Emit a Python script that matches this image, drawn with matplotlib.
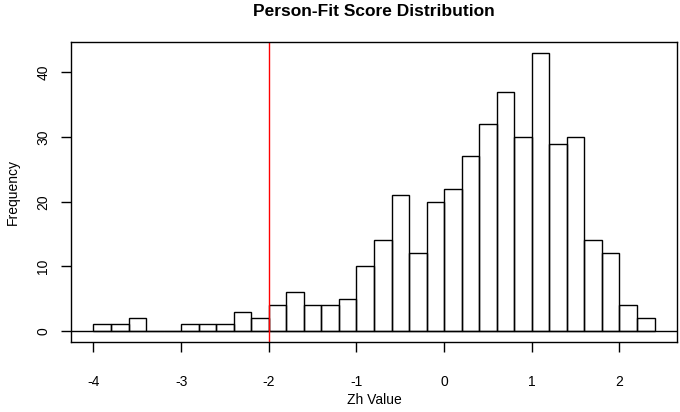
import numpy as np
import matplotlib
matplotlib.use("Agg")
import matplotlib.pyplot as plt

plt.rcParams['font.family'] = ['Liberation Sans', 'DejaVu Sans']

# Histogram bins (Zh value) and counts
bin_edges = [-4.0, -3.8, -3.6, -3.4, -3.2, -3.0, -2.8, -2.6, -2.4, -2.2, -2.0,
             -1.8, -1.6, -1.4, -1.2, -1.0, -0.8, -0.6, -0.4, -0.2, 0.0,
             0.2, 0.4, 0.6, 0.8, 1.0, 1.2, 1.4, 1.6, 1.8, 2.0, 2.2, 2.4]
counts = [1, 1, 2, 0, 0, 1, 1, 1, 3, 2,
          4, 6, 4, 4, 5, 10, 14, 21, 12, 20,
          22, 27, 32, 37, 30, 43, 29, 30, 14, 12, 4, 2]
cutoff = -2.0
x_ticks = [-4, -3, -2, -1, 0, 1, 2]
y_ticks = [0, 10, 20, 30, 40]

fig = plt.figure(figsize=(6.8, 4.12), dpi=100)
ax = fig.add_axes([71/680, 1-342/412, (677-71)/680, (342-42)/412])

edges = np.array(bin_edges)
ax.bar(edges[:-1], counts, width=np.diff(edges), align='edge',
       fill=False, edgecolor='black', linewidth=1.0)

ax.axhline(0, color='black', linewidth=1.0)
ax.axvline(cutoff, color='red', linewidth=1.0)

ax.set_xlim(-4.256, 2.656)
ax.set_ylim(-1.72, 44.72)
ax.set_xticks(x_ticks)
ax.set_xticklabels([str(v) for v in x_ticks])
ax.set_yticks(y_ticks)
ax.set_yticklabels([str(v) for v in y_ticks])
ax.tick_params(axis='both', direction='out', length=7, width=1, labelsize=10, color='black')
ax.tick_params(axis='x', pad=17)
ax.tick_params(axis='y', pad=8, labelrotation=90)
for lab in ax.get_yticklabels():
    lab.set_va('center')
for s in ax.spines.values():
    s.set_linewidth(1.0)

fig.text((71+677)/2/680, 1-12/412, 'Person-Fit Score Distribution',
         ha='center', va='center', fontsize=12.5, fontweight='bold')
fig.text((71+677)/2/680, 1-400/412, 'Zh Value', ha='center', va='center', fontsize=10)
fig.text(13/680, 1-192/412, 'Frequency', ha='center', va='center', fontsize=10, rotation=90)

fig.savefig('out.png', dpi=100)
